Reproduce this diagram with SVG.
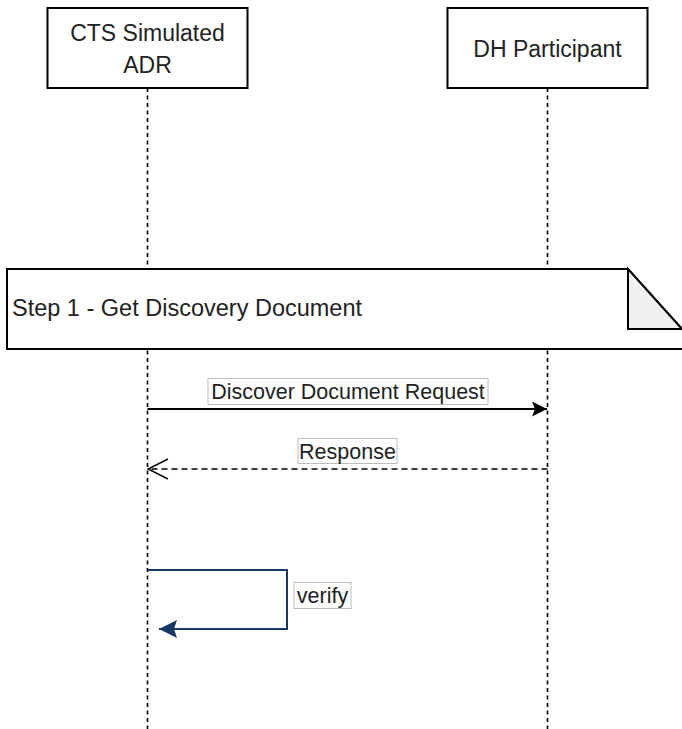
<svg xmlns="http://www.w3.org/2000/svg" width="682" height="729" viewBox="0 0 682 729">
<style>
.box{fill:#fff;stroke:#000;stroke-width:2}
.life{stroke:#000;stroke-width:1.6;stroke-dasharray:4 3.5;fill:none}
.t{font-family:"Liberation Sans",Arial,sans-serif;fill:#222;text-anchor:middle}
.lbl{fill:#fff;stroke:#bdbdbd;stroke-width:1}
</style>
<defs>
<marker id="fill" markerWidth="15" markerHeight="15" viewBox="0 0 15 15" refX="15" refY="7.5" orient="auto" markerUnits="userSpaceOnUse">
<path d="M0,0 L15,7.5 L0,15 L3,7.5 Z" fill="#000"/>
</marker>
<marker id="open" markerWidth="22" markerHeight="22" viewBox="0 0 22 22" refX="21" refY="11" orient="auto" markerUnits="userSpaceOnUse">
<path d="M1,1 L21,11 L1,21" fill="none" stroke="#000" stroke-width="1.5"/>
</marker>
<marker id="navy" markerWidth="18" markerHeight="18" viewBox="0 0 18 18" refX="18" refY="9" orient="auto" markerUnits="userSpaceOnUse">
<path d="M0,0 L18,9 L0,18 L3,9 Z" fill="#173868"/>
</marker>
</defs>
<g id="lifelines">
<line class="life" x1="147.5" y1="88" x2="147.5" y2="729"/>
<line class="life" x1="547.5" y1="88" x2="547.5" y2="729"/>
</g>
<g id="adr">
<rect class="box" x="47.5" y="8" width="200" height="80"/>
<text class="t" x="147.5" y="41" font-size="23">CTS Simulated</text>
<text class="t" x="147.5" y="73" font-size="23">ADR</text>
</g>
<g id="dh">
<rect class="box" x="447.5" y="8" width="200" height="80"/>
<text class="t" x="547.5" y="57" font-size="23">DH Participant</text>
</g>
<g id="step1">
<path class="box" d="M7,269 H628 L685,332.3 V349 H7 Z"/>
<path d="M628,269 V329 H682 Z" fill="#f0f0f0" stroke="#000" stroke-width="2" stroke-linejoin="miter"/>
<text x="12" y="316" font-size="23.5" font-family="Liberation Sans, Arial, sans-serif" fill="#222">Step 1 - Get Discovery Document</text>
</g>
<g id="connectors">
<line x1="147.5" y1="409" x2="547" y2="409" stroke="#000" stroke-width="2" marker-end="url(#fill)"/>
<rect class="lbl" x="208" y="378.5" width="280" height="26"/>
<text class="t" x="348" y="399" font-size="21.5">Discover Document Request</text>
<line x1="547.5" y1="469" x2="148" y2="469" stroke="#000" stroke-width="1.5" stroke-dasharray="6 4" marker-end="url(#open)"/>
<rect class="lbl" x="298" y="438.5" width="99" height="25"/>
<text class="t" x="347.5" y="459" font-size="21.5">Response</text>
<path d="M147.5,570 H287 V629 H159" fill="none" stroke="#173868" stroke-width="2" marker-end="url(#navy)"/>
<rect class="lbl" x="294" y="582.5" width="57" height="26"/>
<text class="t" x="322.5" y="603" font-size="21.5">verify</text>
</g>
</svg>
